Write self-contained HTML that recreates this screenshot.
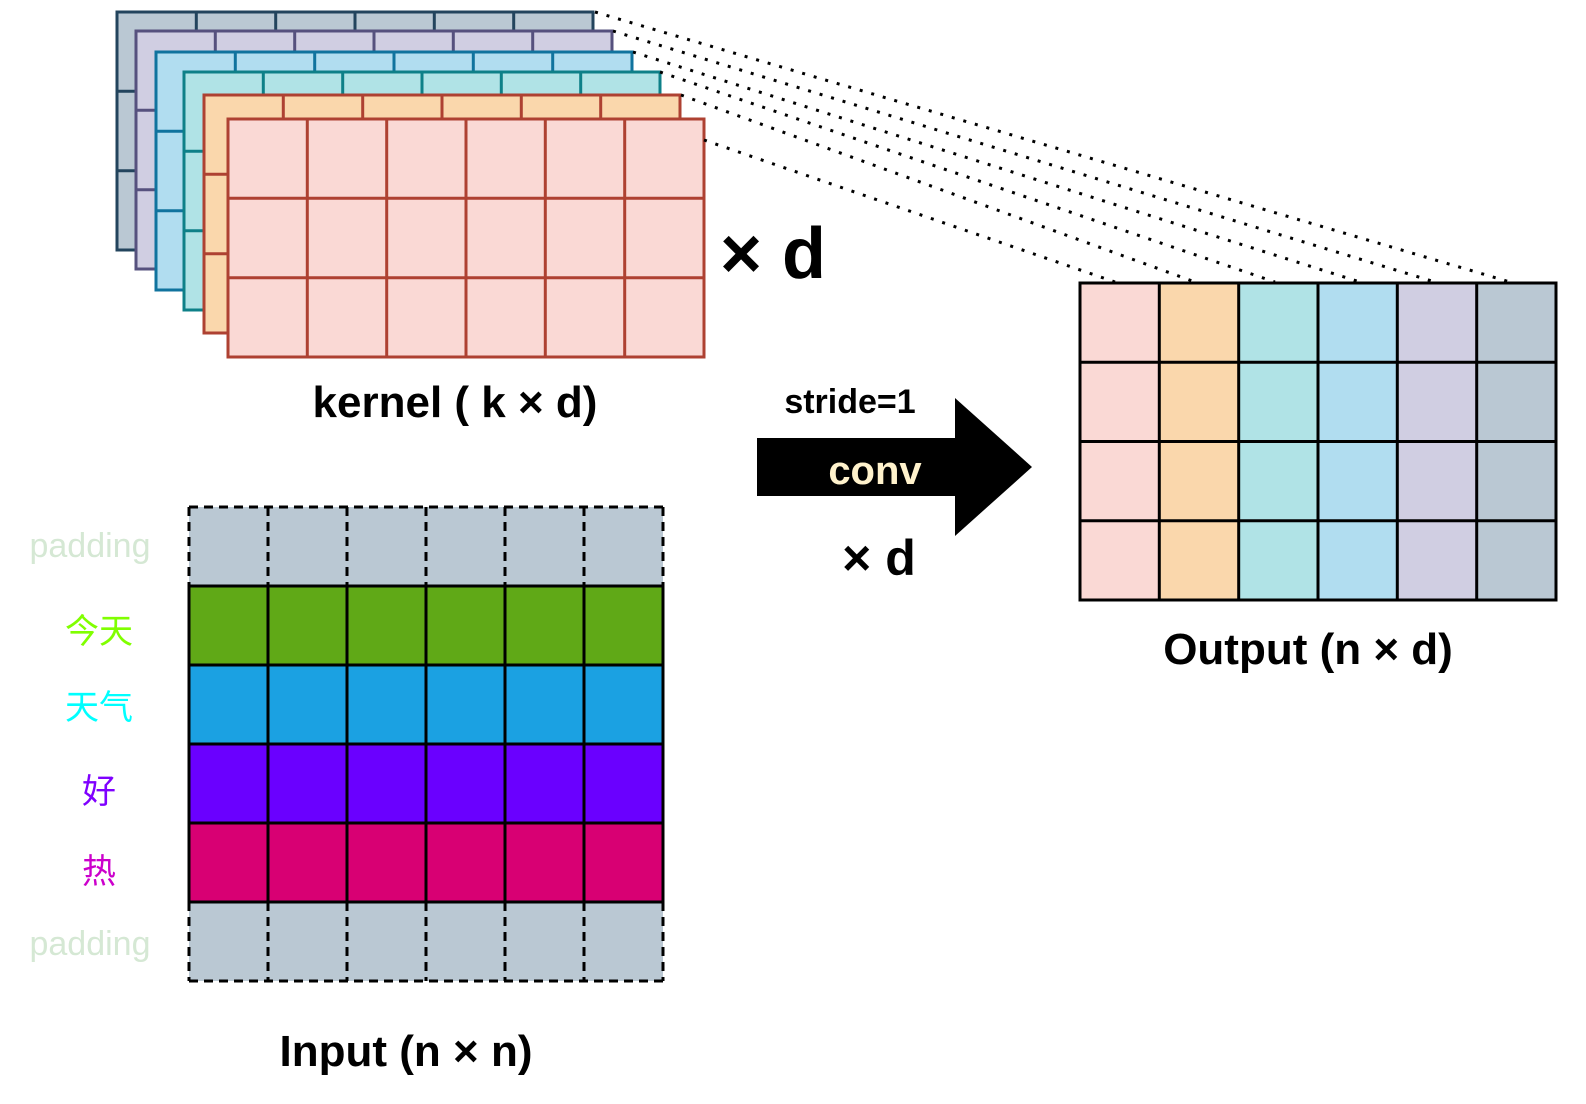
<!DOCTYPE html>
<html><head><meta charset="utf-8"><style>
html,body{margin:0;padding:0;background:#fff;}
svg{display:block;}
text{font-family:"Liberation Sans",Arial,sans-serif;font-weight:bold;}
.cjk{font-family:"Liberation Sans","Noto Sans CJK SC",sans-serif;font-weight:normal;}
</style></head><body>
<svg width="1586" height="1104" viewBox="0 0 1586 1104" xmlns="http://www.w3.org/2000/svg">
<defs>
<g id="k">
<rect x="0" y="0" width="476" height="238"/>
<path fill="none" d="M79.3 0V238M158.7 0V238M238 0V238M317.3 0V238M396.7 0V238M0 79.3H476M0 158.7H476"/>
</g>
</defs>
<g stroke-width="3">
<use href="#k" x="117" y="12" fill="#bac8d3" stroke="#23445d"/>
<use href="#k" x="136" y="31" fill="#d0cee2" stroke="#56517e"/>
<use href="#k" x="156" y="52" fill="#b1ddf0" stroke="#10739e"/>
<use href="#k" x="184" y="72" fill="#b0e3e6" stroke="#0e8088"/>
<use href="#k" x="204" y="95" fill="#fad7ac" stroke="#ae4132"/>
<use href="#k" x="228" y="119" fill="#fad9d5" stroke="#ae4132"/>
</g>
<g stroke="#000" stroke-width="3" stroke-dasharray="3 9" fill="none">
<line x1="595" y1="12" x2="1510" y2="282"/>
<line x1="613" y1="31" x2="1435" y2="282"/>
<line x1="633" y1="52" x2="1360" y2="282"/>
<line x1="660" y1="72" x2="1275" y2="282"/>
<line x1="681" y1="95" x2="1195" y2="282"/>
<line x1="704" y1="140" x2="1115" y2="282"/>
</g>
<text x="720" y="278" font-size="72">× d</text>
<text x="455" y="417" font-size="44" text-anchor="middle">kernel ( k × d)</text>

<!-- output -->
<g>
<rect x="1080" y="283" width="79.3" height="317" fill="#fad9d5"/>
<rect x="1159.3" y="283" width="79.3" height="317" fill="#fad7ac"/>
<rect x="1238.7" y="283" width="79.3" height="317" fill="#b0e3e6"/>
<rect x="1318" y="283" width="79.3" height="317" fill="#b1ddf0"/>
<rect x="1397.3" y="283" width="79.3" height="317" fill="#d0cee2"/>
<rect x="1476.7" y="283" width="79.3" height="317" fill="#bac8d3"/>
<rect x="1080" y="283" width="476" height="317" fill="none" stroke="#000" stroke-width="3"/>
<path stroke="#000" stroke-width="3" fill="none" d="M1159.3 283V600M1238.7 283V600M1318 283V600M1397.3 283V600M1476.7 283V600M1080 362.3H1556M1080 441.5H1556M1080 520.8H1556"/>
</g>
<text x="1308" y="664" font-size="44" text-anchor="middle">Output (n × d)</text>

<!-- arrow -->
<polygon points="757,438 955,438 955,398 1032,467 955,536 955,496 757,496" fill="#000"/>
<text x="875" y="484" font-size="40" fill="#fff2cc" text-anchor="middle">conv</text>
<text x="850" y="413" font-size="34" text-anchor="middle">stride=1</text>
<text x="879" y="575" font-size="50" text-anchor="middle">× d</text>

<!-- input -->
<g>
<rect x="189" y="507" width="474" height="79" fill="#bac8d3"/>
<rect x="189" y="586" width="474" height="79" fill="#60a917"/>
<rect x="189" y="665" width="474" height="79" fill="#1ba1e2"/>
<rect x="189" y="744" width="474" height="79" fill="#6a00ff"/>
<rect x="189" y="823" width="474" height="79" fill="#d80073"/>
<rect x="189" y="902" width="474" height="79" fill="#bac8d3"/>
<path stroke="#000" stroke-width="3" fill="none" d="M189 586V902M268 586V902M347 586V902M426 586V902M505 586V902M584 586V902M663 586V902M189 586H663M189 665H663M189 744H663M189 823H663M189 902H663"/>
<path stroke="#000" stroke-width="3" stroke-dasharray="9 6" fill="none" d="M189 507H663M189 981H663M189 507V586M268 507V586M347 507V586M426 507V586M505 507V586M584 507V586M663 507V586M189 902V981M268 902V981M347 902V981M426 902V981M505 902V981M584 902V981M663 902V981"/>
</g>
<text x="90" y="557" font-size="34" fill="#d5e8d4" text-anchor="middle" style="font-weight:normal">padding</text>
<text x="90" y="955" font-size="34" fill="#d5e8d4" text-anchor="middle" style="font-weight:normal">padding</text>
<text class="cjk" x="99" y="643" font-size="34" fill="#80ff00" text-anchor="middle">今天</text>
<text class="cjk" x="99" y="719" font-size="34" fill="#00ffff" text-anchor="middle">天气</text>
<text class="cjk" x="99" y="803" font-size="34" fill="#7f00ff" text-anchor="middle">好</text>
<text class="cjk" x="99" y="883" font-size="34" fill="#cc00cc" text-anchor="middle">热</text>
<text x="406" y="1066" font-size="44" text-anchor="middle">Input (n × n)</text>
</svg>
</body></html>
